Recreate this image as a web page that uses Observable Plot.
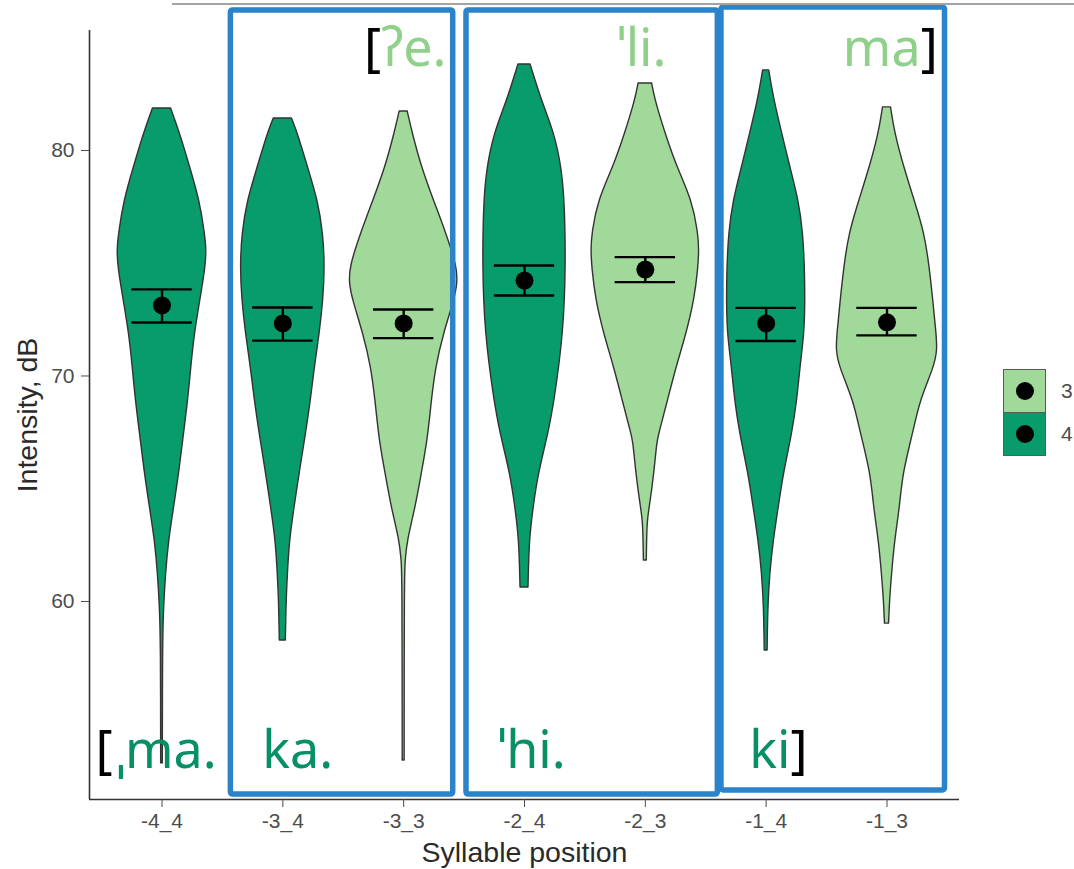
<!DOCTYPE html>
<html><head><meta charset="utf-8">
<script src="https://cdn.jsdelivr.net/npm/d3@7"></script>
<script src="https://cdn.jsdelivr.net/npm/@observablehq/plot@0.6"></script>
<style>
html,body{margin:0;padding:0;background:#fff;}
#wrap{position:relative;width:1074px;height:869px;overflow:hidden;background:#fff;}
#topline{position:absolute;left:172px;top:3px;width:902px;height:2px;background:#a3a3a3;}
#legend{position:absolute;left:1003px;top:369px;font-family:"Liberation Sans",Arial,sans-serif;font-size:21px;color:#4d4d4d;}
.key{position:relative;width:43px;height:44px;box-sizing:border-box;border:1.5px solid #5a5a5a;}
.key .dot{position:absolute;left:50%;top:50%;width:18px;height:18px;margin:-9px 0 0 -9px;border-radius:50%;background:#000;}
.key .lab{position:absolute;left:57px;top:50%;transform:translateY(-50%);}
</style>
</head><body>
<div id="wrap"><div id="topline"></div><div id="chart"></div><div id="legend"></div></div>
<script>
// ---- data ----
const categories = ["-4_4","-3_4","-3_3","-2_4","-2_3","-1_4","-1_3"];
const stress     = ["4","4","3","4","3","4","3"];
const means = [73.13, 72.33, 72.33, 74.23, 74.72, 72.33, 72.38];
const upper = [73.84, 73.04, 72.95, 74.90, 75.27, 73.02, 73.02];
const lower = [72.37, 71.57, 71.68, 73.57, 74.16, 71.55, 71.80];
const legendGroups = ["3","4"];

// violin profiles: [intensity dB, half-width in category units]
const violin_m4_4 = [[81.86,0.075],[80.75,0.15],[79.25,0.233],[77.78,0.313],[76.32,0.356],[75.57,0.37],[74.81,0.362],[73.35,0.317],[71.88,0.271],[70.38,0.242],[68.91,0.217],[67.14,0.175],[65.68,0.142],[64.17,0.10],[62.71,0.058],[61.24,0.033],[59.73,0.017],[58.27,0.008],[52.82,0.007]];
const violin_m3_4 = [[81.42,0.075],[80.75,0.125],[79.25,0.208],[77.78,0.292],[76.32,0.336],[74.81,0.35],[73.35,0.336],[71.88,0.306],[70.38,0.264],[68.91,0.233],[67.14,0.183],[65.68,0.139],[64.17,0.097],[62.71,0.058],[61.24,0.042],[60.04,0.031],[58.27,0.025]];
const violin_m3_3 = [[81.73,0.033],[80.75,0.075],[79.25,0.15],[77.78,0.25],[76.32,0.354],[74.81,0.445],[74.10,0.448],[73.35,0.42],[71.88,0.333],[70.38,0.267],[68.91,0.233],[67.14,0.20],[65.68,0.15],[64.17,0.10],[62.71,0.033],[61.82,0.017],[61.24,0.009],[52.95,0.008]];
const violin_m2_4 = [[83.81,0.05],[82.22,0.142],[80.75,0.25],[79.25,0.308],[77.78,0.335],[74.81,0.345],[71.88,0.325],[68.91,0.25],[67.45,0.20],[65.68,0.117],[64.17,0.075],[62.71,0.042],[60.62,0.033]];
const violin_m2_3 = [[82.97,0.056],[82.22,0.083],[80.75,0.167],[79.25,0.264],[77.78,0.389],[76.32,0.44],[75.57,0.447],[74.81,0.44],[73.35,0.408],[71.88,0.342],[70.38,0.258],[68.91,0.1875],[67.45,0.117],[67.14,0.10],[65.68,0.075],[64.17,0.0375],[63.59,0.017],[61.82,0.012]];
const violin_m1_4 = [[83.55,0.025],[82.22,0.067],[80.75,0.133],[79.25,0.20],[77.78,0.271],[76.32,0.308],[74.81,0.321],[73.35,0.325],[71.88,0.319],[70.38,0.283],[68.91,0.258],[67.45,0.217],[65.68,0.146],[64.17,0.104],[62.71,0.0625],[61.24,0.033],[59.73,0.017],[57.83,0.012]];
const violin_m1_3 = [[81.91,0.033],[80.75,0.067],[79.25,0.142],[77.78,0.229],[76.32,0.3125],[74.81,0.354],[73.35,0.383],[71.88,0.41],[71.13,0.42],[70.38,0.392],[68.91,0.275],[67.45,0.217],[65.68,0.133],[64.17,0.108],[62.71,0.067],[61.24,0.042],[60.04,0.025],[59.02,0.017]];
const profiles = [violin_m4_4, violin_m3_4, violin_m3_3, violin_m2_4, violin_m2_3, violin_m1_4, violin_m1_3];

// annotation overlay: boxed category pairs and syllables
const boxGroups = [["-3_4","-3_3"],["-2_4","-2_3"],["-1_4","-1_3"]];
const topSyllables = ["[ʔe.", "ˈli.", "ma]"];
const topSyllableCats = ["-3_3","-2_3","-1_3"];
const bottomSyllables = ["[ˌma.", "ka.", "ˈhi.", "ki]"];
const bottomSyllableCats = ["-4_4","-3_4","-2_4","-1_4"];

// ---- styling ----
const DARK = "#089c6d", LIGHT = "#a1d99b";
const TEXT_DARK = "#078f65", TEXT_LIGHT = "#8fd08a";
const BLUE = "#2b83c9";
const idx = c => categories.indexOf(c);

const rows = categories.map((c,i)=>({cat:c,i,group:stress[i],mean:means[i],lo:lower[i],hi:upper[i]}));
const vrows = d3.sort(profiles.flatMap((p,i)=>p.map(([v,w])=>({cat:categories[i],i,group:stress[i],v,w}))), d=>d.i, d=>d.v);

const boxPad = [[0.43,0.41,86.21,51.44],[0.48,0.60,86.21,51.44],[0.37,0.48,86.34,51.62]];
const topDx = [0.355, 0.175, 0.42];
const botDx = [-0.55, -0.17, -0.22, -0.14];

const chart = Plot.plot({
  width: 1074, height: 869,
  marginLeft: 89, marginRight: 115, marginTop: 30, marginBottom: 70,
  style: {fontFamily: '"Liberation Sans", Arial, sans-serif', background: "white", overflow: "visible"},
  x: {domain: [-0.6, 6.6], label: null},
  y: {domain: [51.22, 85.32], label: null},
  color: {domain: ["3","4"], range: [LIGHT, DARK]},
  marks: [
    Plot.areaX(vrows, {x1: d=>d.i-d.w, x2: d=>d.i+d.w, y: "v", z: "cat", fill: "group", stroke: "#333", strokeWidth: 1.4, curve: "basis"}),
    Plot.ruleX(rows, {x: "i", y1: "lo", y2: "hi", stroke: "#000", strokeWidth: 2.4}),
    Plot.ruleY(rows, {y: "hi", x1: d=>d.i-0.25, x2: d=>d.i+0.25, stroke: "#000", strokeWidth: 2.4}),
    Plot.ruleY(rows, {y: "lo", x1: d=>d.i-0.25, x2: d=>d.i+0.25, stroke: "#000", strokeWidth: 2.4}),
    Plot.dot(rows, {x: "i", y: "mean", r: 9, fill: "#000", stroke: "none"}),
    Plot.ruleX([-0.6], {stroke: "#333", strokeWidth: 1.6}),
    Plot.ruleY([51.22], {stroke: "#333", strokeWidth: 1.6}),
    Plot.axisX({ticks: d3.range(categories.length), tickFormat: i => categories[i], tickSize: 8, tickPadding: 6, fontSize: 21, color: "#4d4d4d", label: null}),
    Plot.axisY({ticks: [60,70,80], tickSize: 8, tickPadding: 7, fontSize: 21, color: "#4d4d4d", label: null}),
    Plot.text(["Intensity, dB"], {text: d=>d, frameAnchor: "left", dx: -62, rotate: -90, textAnchor: "middle", lineAnchor: "middle", fontSize: 28.5, fill: "#2a2a2a"}),
    Plot.text(["Syllable position"], {text: d=>d, frameAnchor: "bottom", dy: 53, textAnchor: "middle", lineAnchor: "middle", fontSize: 28.5, fill: "#2a2a2a"}),
    Plot.rect(boxGroups, {x1: (g,k)=>idx(g[0])-boxPad[k][0], x2: (g,k)=>idx(g[1])+boxPad[k][1], y1: (g,k)=>boxPad[k][3], y2: (g,k)=>boxPad[k][2], fill: "none", stroke: BLUE, strokeWidth: 5.5, rx: 2}),
    Plot.text(topSyllables, {text: d=>d, x: (d,k)=>idx(topSyllableCats[k])+topDx[k], y: 83.73, textAnchor: "end", lineAnchor: "bottom", fontSize: 52, fontFamily: '"Noto Sans", sans-serif', fill: TEXT_LIGHT}),
    Plot.text(bottomSyllables, {text: d=>d, x: (d,k)=>idx(bottomSyllableCats[k])+botDx[k], y: 52.6, textAnchor: "start", lineAnchor: "bottom", fontSize: 52, fontFamily: '"Noto Sans", sans-serif', fill: TEXT_DARK})
  ]
});
document.getElementById("chart").appendChild(chart);

// colour the brackets black inside the syllable texts
chart.querySelectorAll("text").forEach(t => {
  const s = t.textContent;
  if (!/[\[\]]/.test(s)) return;
  let col = null, el = t;
  while (el && el !== chart && !col) { col = el.getAttribute && el.getAttribute("fill"); el = el.parentNode; }
  if (!col) col = TEXT_DARK;
  while (t.firstChild) t.removeChild(t.firstChild);
  const runs = s.match(/[\[\]]|[^\[\]]+/g) || [];
  runs.forEach(r => {
    const ts = document.createElementNS("http://www.w3.org/2000/svg", "tspan");
    const c = (r === "[" || r === "]") ? "#000" : col;
    ts.setAttribute("fill", c);
    ts.style.fill = c;
    if (r.startsWith("ˌ")) ts.setAttribute("dx", "4");
    ts.textContent = r;
    t.appendChild(ts);
  });
});

// legend
const leg = document.getElementById("legend");
legendGroups.forEach(g => {
  const k = document.createElement("div");
  k.className = "key";
  k.style.background = g === "3" ? LIGHT : DARK;
  if (g === "4") k.style.marginTop = "-1px";
  k.innerHTML = '<div class="dot"></div><div class="lab">' + g + '</div>';
  leg.appendChild(k);
});
</script>
</body></html>
